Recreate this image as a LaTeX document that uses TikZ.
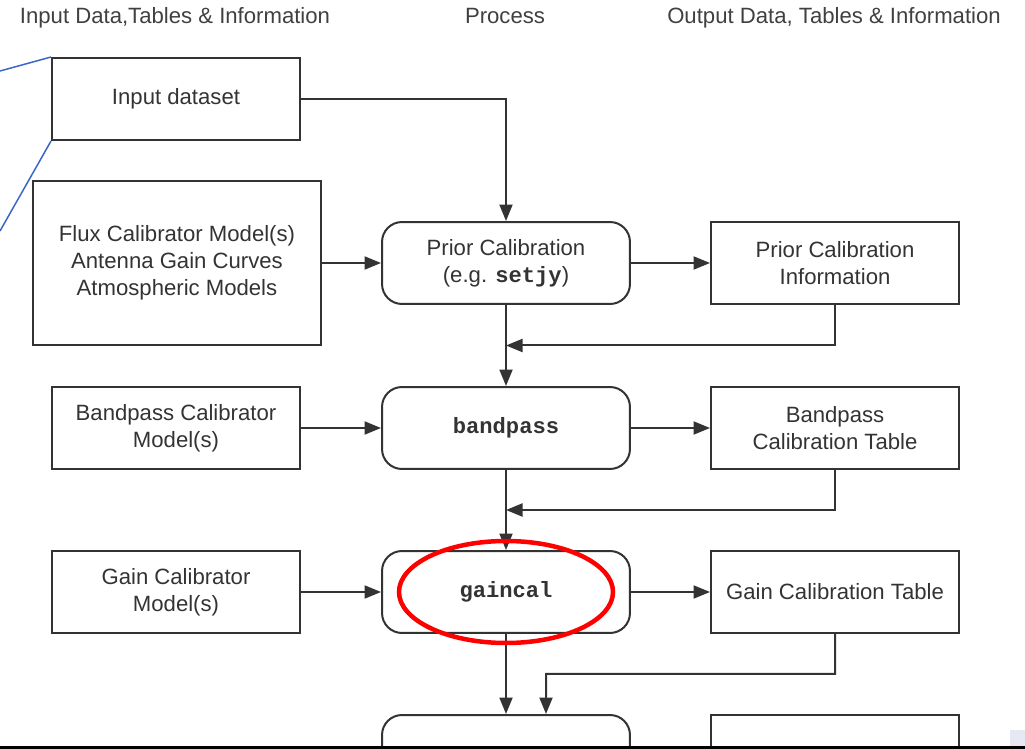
\documentclass[tikz,border=0pt]{standalone}
\usepackage{fontspec}
\setmainfont{Liberation Sans}
\setmonofont{Liberation Mono}
\usetikzlibrary{arrows.meta,calc}
\definecolor{linkblue}{HTML}{3A66C6}
\definecolor{cornerfill}{HTML}{E6E8F3}
\tikzset{
  databox/.style={draw=black!80, line width=0.04cm, minimum width=4.96cm, minimum height=1.64cm,
    align=center, text=black!80, font=\fontsize{12.6}{15.5}\selectfont},
  procbox/.style={databox, rounded corners=0.4cm},
  flow/.style={draw=black!80, line width=0.04cm, -{Triangle[length=0.33cm,width=0.26cm]}},
  heading/.style={anchor=base, text=black!75, font=\fontsize{12.6}{15.5}\selectfont},
  link/.style={draw=linkblue, line width=0.03cm},
}
\newcommand{\cmd}[1]{\texttt{\bfseries #1}}
\begin{document}
\begin{tikzpicture}[x=0.02cm,y=-0.02cm]
	\useasboundingbox (0,0) rectangle (1025,749);
	
	\node[heading] (hin) at (175,24) {Input Data,Tables \& Information};
	\node[heading] (hproc) at (505,24) {Process};
	\node[heading] (hout) at (834,24) {Output Data, Tables \& Information};
	
	\node[databox] (input) at (176,99) {Input dataset};
	\node[databox, minimum width=5.76cm, minimum height=3.3cm] (flux) at (177,263) {Flux Calibrator Model(s)\\Antenna Gain Curves\\Atmospheric Models};
	\node[procbox] (prior) at (506,263) {Prior Calibration\\(e.g. \cmd{setjy})};
	\node[databox] (priorinfo) at (835,263) {Prior Calibration\\Information};
	
	\node[databox] (bpmodel) at (176,428) {Bandpass Calibrator\\Model(s)};
	\node[procbox] (bandpass) at (506,428) {\cmd{bandpass}};
	\node[databox] (bptable) at (835,428) {Bandpass\\Calibration Table};
	
	\node[databox] (gainmodel) at (176,592) {Gain Calibrator\\Model(s)};
	\node[procbox] (gaincal) at (506,592) {\cmd{gaincal}};
	\node[databox] (gaintable) at (835,592) {Gain Calibration Table};
	
	\begin{scope}
	\clip (0,0) rectangle (1025,747);
	\node[procbox] (nextproc) at (506,756) {};
	\node[databox] (nextout) at (835,756) {};
	\end{scope}
	
	\draw[flow] (input.east) -| (prior.north);
	\draw[flow] (flux) -- (prior);
	\draw[flow] (prior) -- (priorinfo);
	\draw[flow] (prior) -- (bandpass);
	\draw[flow] (priorinfo.south) |- ($(prior.south)!0.5!(bandpass.north)$);
	
	\draw[flow] (bpmodel) -- (bandpass);
	\draw[flow] (bandpass) -- (bptable);
	\draw[flow] (bandpass) -- (gaincal);
	\draw[flow] (bptable.south) |- ($(bandpass.south)!0.5!(gaincal.north)$);
	
	\draw[flow] (gainmodel) -- (gaincal);
	\draw[flow] (gaincal) -- (gaintable);
	\draw[flow] (gaincal.south) -- (nextproc.north);
	\draw[flow] (gaintable.south) |- ($(gaincal.south)!0.5!(nextproc.north)+(40,0)$) -- ([xshift=0.8cm]nextproc.north);
	
	\draw[red, line width=0.09cm] (gaincal.center) ellipse [x radius=107, y radius=51];
	
	\coordinate (linka) at (0,71);
	\coordinate (linkb) at (0,231);
	\draw[link] (linka) -- (input.north west);
	\draw[link] (linkb) -- (input.south west);
	
	\fill[cornerfill] (1010,730) rectangle (1025,747);
	\draw[black, line width=0.05cm] (0,747.5) -- (1025,747.5);
	
\end{tikzpicture}
\end{document}
